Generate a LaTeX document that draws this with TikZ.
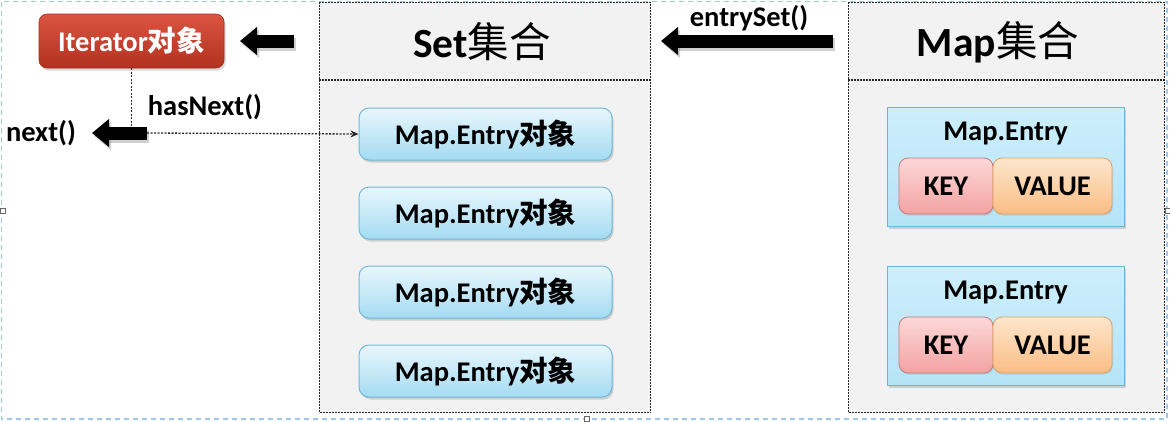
\documentclass[tikz,border=0pt]{standalone}
\usepackage{fontspec}
\setmainfont{Carlito}
\newfontfamily\cjk{Noto Sans CJK SC}
\usetikzlibrary{arrows.meta,shadows}
\definecolor{panelfill}{HTML}{F2F2F2}
\definecolor{framecol}{HTML}{9CC8EE}
\definecolor{itertop}{HTML}{DC5442}
\definecolor{iterbot}{HTML}{B2311F}
\definecolor{iterdraw}{HTML}{A3301F}
\definecolor{eotop}{HTML}{E8F7FD}
\definecolor{eobot}{HTML}{A4DBF2}
\definecolor{eodraw}{HTML}{72B9D9}
\definecolor{mebg}{HTML}{CDEEFB}
\definecolor{mebgbot}{HTML}{B5E4F7}
\definecolor{medraw}{HTML}{6DB6D6}
\definecolor{keytop}{HTML}{FDD8D8}
\definecolor{keybot}{HTML}{F4A2A2}
\definecolor{keydraw}{HTML}{C47A7A}
\definecolor{valtop}{HTML}{FEE6CC}
\definecolor{valbot}{HTML}{FABD84}
\definecolor{valdraw}{HTML}{E0A262}
\begin{document}
\begin{tikzpicture}[x=1pt,y=-1pt,
  lbl/.style={font=\fontsize{28.5}{31}\selectfont\bfseries, inner sep=0pt},
  hdr/.style={font=\fontsize{41.5}{45}\selectfont, inner sep=0pt},
  container/.style={draw=black!85, fill=panelfill, line width=1.1pt, dash pattern=on 2pt off 1pt, inner sep=0pt, anchor=north west},
  divider/.style={draw=black!85, line width=1.1pt, dash pattern=on 2pt off 1pt},
  softshadow/.style={drop shadow={shadow xshift=1.5pt, shadow yshift=-2.5pt, opacity=0.25, fill=black!60}},
  iterbox/.style={rounded corners=8pt, top color=itertop, bottom color=iterbot, draw=iterdraw, line width=0.6pt,
     minimum width=185pt, minimum height=54pt, softshadow, text=white, lbl},
  entryobj/.style={rounded corners=10pt, top color=eotop, bottom color=eobot, draw=eodraw, line width=1pt,
     minimum width=253pt, minimum height=52pt, softshadow, lbl},
  mapentry/.style={top color=mebg, bottom color=mebgbot, draw=medraw, line width=1pt,
     minimum width=237pt, minimum height=119pt, softshadow, inner sep=0pt},
  keybox/.style={rounded corners=9pt, top color=keytop, bottom color=keybot, draw=keydraw, line width=0.8pt,
     minimum width=94pt, minimum height=56pt, lbl, drop shadow={shadow xshift=1pt, shadow yshift=-1.5pt, opacity=0.2}},
  valbox/.style={rounded corners=9pt, top color=valtop, bottom color=valbot, draw=valdraw, line width=0.8pt,
     minimum width=119pt, minimum height=56pt, lbl, drop shadow={shadow xshift=1pt, shadow yshift=-1.5pt, opacity=0.2}},
  blockarrow/.style={line width=13pt, black, -{Triangle[length=17pt,width=27pt]}},
  arrowshadow/.style={line width=13pt, black, opacity=0.18, -{Triangle[length=17pt,width=27pt]}},
  dotline/.style={line width=1.3pt, black!85, dash pattern=on 2pt off 1.5pt},
  handle/.style={draw=black!60, fill=white, line width=0.6pt, minimum size=5pt, inner sep=0pt}
]
\useasboundingbox (0,0) rectangle (1170,421);
% selection frame
\draw[framecol, line width=1.2pt, dash pattern=on 5pt off 4pt] (1.5,1.5) rectangle (1167,419);
\node[handle] (h1) at (3,211) {};
\node[handle] (h2) at (587,419) {};
\node[handle] (h3) at (1168,211) {};

% containers
\node[container, minimum width=331pt, minimum height=410pt] (set) at (319,2) {};
\draw[divider] (319,80) -- (650,80);
\node[hdr] (settitle) at (482,42) {\textbf{Set}{\cjk 集合}};

\node[container, minimum width=316pt, minimum height=410pt] (map) at (848,2) {};
\draw[divider] (848,80) -- (1164,80);
\node[hdr] (maptitle) at (998,42) {\textbf{Map}{\cjk 集合}};

% iterator
\node[iterbox] (iter) at (131.5,41) {Iterator{\cjk 对象}};

% set entries
\node[entryobj] (e1) at (485.5,134) {Map.Entry{\cjk 对象}};
\node[entryobj] (e2) at (485.5,213) {Map.Entry{\cjk 对象}};
\node[entryobj] (e3) at (485.5,292) {Map.Entry{\cjk 对象}};
\node[entryobj] (e4) at (485.5,371) {Map.Entry{\cjk 对象}};

% map entries
\node[mapentry] (m1) at (1005.5,166.5) {};
\node[lbl] (m1t) at (1005.5,133) {Map.Entry};
\node[keybox] (k1) at (946,186) {KEY};
\node[valbox] (v1) at (1052.5,186) {VALUE};

\node[mapentry] (m2) at (1005.5,325.5) {};
\node[lbl] (m2t) at (1005.5,292) {Map.Entry};
\node[keybox] (k2) at (946,345) {KEY};
\node[valbox] (v2) at (1052.5,345) {VALUE};

% labels
\node[lbl] (hasnext) at (205,107) {hasNext()};
\node[lbl] (nextlbl) at (41,133) {next()};
\node[lbl] (entryset) at (749,18) {entrySet()};

% arrow coordinates
\coordinate (itTail) at (294,41);
\coordinate (itTip) at (240,41);
\coordinate (esTail) at (833,41);
\coordinate (esTip) at (661,41);
\coordinate (nxTail) at (147,133);
\coordinate (nxTip) at (92,133);

% dotted connectors
\draw[dotline] (iter.south) -- (iter.south |- nxTail);
\draw[dotline, -{Stealth[length=8pt,width=7pt]}] (nxTail) -- (e1.west);

% block arrows
\draw[arrowshadow] ([shift={(2,3)}]itTail) -- ([shift={(2,3)}]itTip);
\draw[blockarrow] (itTail) -- (itTip);
\draw[arrowshadow] ([shift={(2,3)}]esTail) -- ([shift={(2,3)}]esTip);
\draw[blockarrow] (esTail) -- (esTip);
\draw[arrowshadow] ([shift={(2,3)}]nxTail) -- ([shift={(2,3)}]nxTip);
\draw[blockarrow] (nxTail) -- (nxTip);
\end{tikzpicture}
\end{document}
